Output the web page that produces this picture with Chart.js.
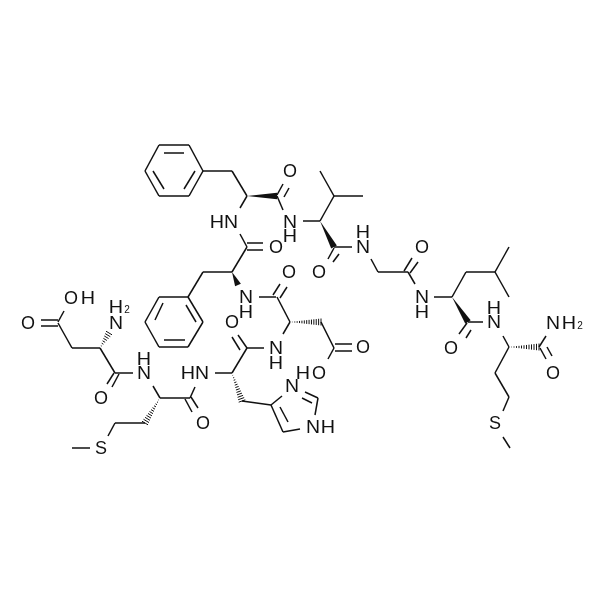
<!DOCTYPE html>
<html>
<head>
<meta charset="utf-8">
<script src="https://cdn.jsdelivr.net/npm/chart.js@4"></script>
<style>
  html, body { margin: 0; padding: 0; background: #fff; }
  canvas { display: block; }
</style>
</head>
<body>
<canvas id="molecule" width="600" height="600"></canvas>
<script>
// bonds: [x1, y1, x2, y2]
const singleBonds = [
  [58,322,64,311],[58,323,72,348],[72,348,100,348],[100,348,115,373],[115,373,133,373],
  [153,386,160,398],[160,398,190,398],[190,398,195,387],[145,423,115,423],[115,423,108,436],[90,448,72,448],
  [215,373,232,373],[232,373,247,348],[242,401,271,405],[247,348,264,348],[283,334,290,322],
  [290,322,277,297],[259,297,276,297],[321,322,334,348],[334,348,328,359],
  [232,272,203,272],[203,272,188,297],[232,272,247,247],[247,247,240,234],[240,208,247,196],
  [247,196,232,171],[232,171,203,171],[277,196,283,210],[303,221,320,221],[320,221,334,196],
  [334,196,320,171],[334,196,363,196],[334,247,352,247],[371,259,378,272],[378,272,408,272],
  [408,272,415,284],[434,297,452,297],[452,297,466,272],[466,272,495,272],[495,272,509,247],
  [495,272,509,297],[468,322,483,322],[503,336,509,347],[539,347,546,336],[509,347,495,373],
  [495,373,509,397],[509,397,503,411],[503,437,510,448]
];
const doubleBondLines = [
  [41,320,58,320],[41,326,58,326],[114,373,107,384],[119,374,112,387],
  [185,399,192,412],[191,397,198,408],[247,348,238,335],[240,350,232,337],
  [335,344,352,344],[335,351,352,351],[273,295,280,284],[280,298,287,287],
  [247,243,263,243],[247,250,263,250],[277,195,283,184],[284,197,289,188],
  [328,259,334,248],[333,262,339,254],[404,271,412,258],[410,273,418,262],
  [459,334,467,323],[466,338,471,330],[540,348,546,359],[547,347,552,356]
];
const upperRing = [[203,171,189,145],[189,145,159,145],[159,145,145,171],[145,171,159,196],[159,196,189,196],[189,196,203,171],
  [184,153,164,153],[153,171,164,189],[184,189,195,171]];
const lowerRing = [[188,297,203,322],[203,322,188,347],[188,347,159,347],[159,347,145,322],[145,322,159,297],[159,297,188,297],
  [186,305,196,322],[164,340,185,340],[155,320,163,303]];
const imidazole = [[271,405,282,396],[305,392,318,398],[302,398,312,403],[318,398,315,415],[300,429,283,432],[283,432,271,405],[288,422,280,407]];

// stereo bonds: narrow end first
const solidWedges = [[232,272,238,285],[247,196,277,196],[320,221,334,247],[452,297,468,322]];
const hashedWedges = [[100,348,109,333],[160,398,145,423],[232,373,242,401],[290,322,321,322],[509,347,539,347]];

// atom labels: [text, x, y]
const atomLabels = [
  ['O',28,323],['O',71,298],['H',88,298],['H',116,307],['N',116,323],['O',101,398],['N',144,373],['H',144,359],
  ['S',101,448],['H',188,373],['N',202,373],['O',203,423],['O',232,322],['N',276,348],['H',276,363],
  ['O',363,347],['O',319,373],['H',303,373],['O',289,272],['N',246,297],['H',246,312],['O',276,247],
  ['H',217,222],['N',231,222],['O',290,171],['N',290,222],['H',290,236],['N',363,247],['H',363,232],
  ['O',319,272],['O',422,247],['N',422,297],['H',422,312],['N',494,322],['H',494,308],['O',451,348],
  ['N',553,323],['H',569,323],['O',553,373],['S',495,423],['N',292,386],['N',313,427],['H',328,427]
];
const subscripts = [['2',127,310],['2',580,326]];

const inkColor = '#111';
const letterStretch = {H: 1.1, N: 1.08};
const bondLists = [singleBonds, doubleBondLines, upperRing, lowerRing, imidazole];
const datasets = bondLists.flat().map(b => ({
  data: [{x: b[0], y: b[1]}, {x: b[2], y: b[3]}],
  showLine: true,
  borderColor: inkColor,
  borderWidth: 1.5,
  pointRadius: 0
}));

const structurePlugin = {
  id: 'structure',
  afterDatasetsDraw(chart) {
    const {ctx, scales: {x, y}} = chart;
    ctx.save();
    ctx.fillStyle = inkColor;
    ctx.strokeStyle = inkColor;
    solidWedges.forEach(w => {
      const x1 = x.getPixelForValue(w[0]), y1 = y.getPixelForValue(w[1]);
      const x2 = x.getPixelForValue(w[2]), y2 = y.getPixelForValue(w[3]);
      const len = Math.hypot(x2 - x1, y2 - y1);
      const nx = -(y2 - y1) / len * 3.2, ny = (x2 - x1) / len * 3.2;
      ctx.beginPath();
      ctx.moveTo(x1, y1);
      ctx.lineTo(x2 + nx, y2 + ny);
      ctx.lineTo(x2 - nx, y2 - ny);
      ctx.closePath();
      ctx.fill();
    });
    ctx.lineWidth = 1;
    hashedWedges.forEach(w => {
      const x1 = x.getPixelForValue(w[0]), y1 = y.getPixelForValue(w[1]);
      const x2 = x.getPixelForValue(w[2]), y2 = y.getPixelForValue(w[3]);
      const len = Math.hypot(x2 - x1, y2 - y1);
      const nx = -(y2 - y1) / len * 3.5, ny = (x2 - x1) / len * 3.5;
      const steps = Math.round(len / 2.4);
      for (let i = 1; i <= steps; i++) {
        const t = i / steps;
        const px = x1 + (x2 - x1) * t, py = y1 + (y2 - y1) * t;
        ctx.beginPath();
        ctx.moveTo(px + nx * t, py + ny * t);
        ctx.lineTo(px - nx * t, py - ny * t);
        ctx.stroke();
      }
    });
    ctx.textAlign = 'center';
    ctx.textBaseline = 'middle';
    ctx.font = '18px "Liberation Sans"';
    atomLabels.forEach(l => {
      ctx.save();
      ctx.translate(x.getPixelForValue(l[1]), y.getPixelForValue(l[2]) + 1);
      ctx.scale(letterStretch[l[0]] || 1, 1);
      ctx.fillText(l[0], 0, 0);
      ctx.restore();
    });
    ctx.font = '10px "Liberation Sans"';
    subscripts.forEach(l => ctx.fillText(l[0], x.getPixelForValue(l[1]), y.getPixelForValue(l[2])));
    ctx.restore();
  }
};

new Chart(document.getElementById('molecule'), {
  type: 'scatter',
  data: {datasets: datasets},
  options: {
    responsive: false,
    animation: false,
    layout: {padding: 0},
    plugins: {legend: {display: false}, tooltip: {enabled: false}},
    scales: {
      x: {type: 'linear', min: 0, max: 600, display: false},
      y: {type: 'linear', min: 0, max: 600, reverse: true, display: false}
    }
  },
  plugins: [structurePlugin]
});
</script>
</body>
</html>
